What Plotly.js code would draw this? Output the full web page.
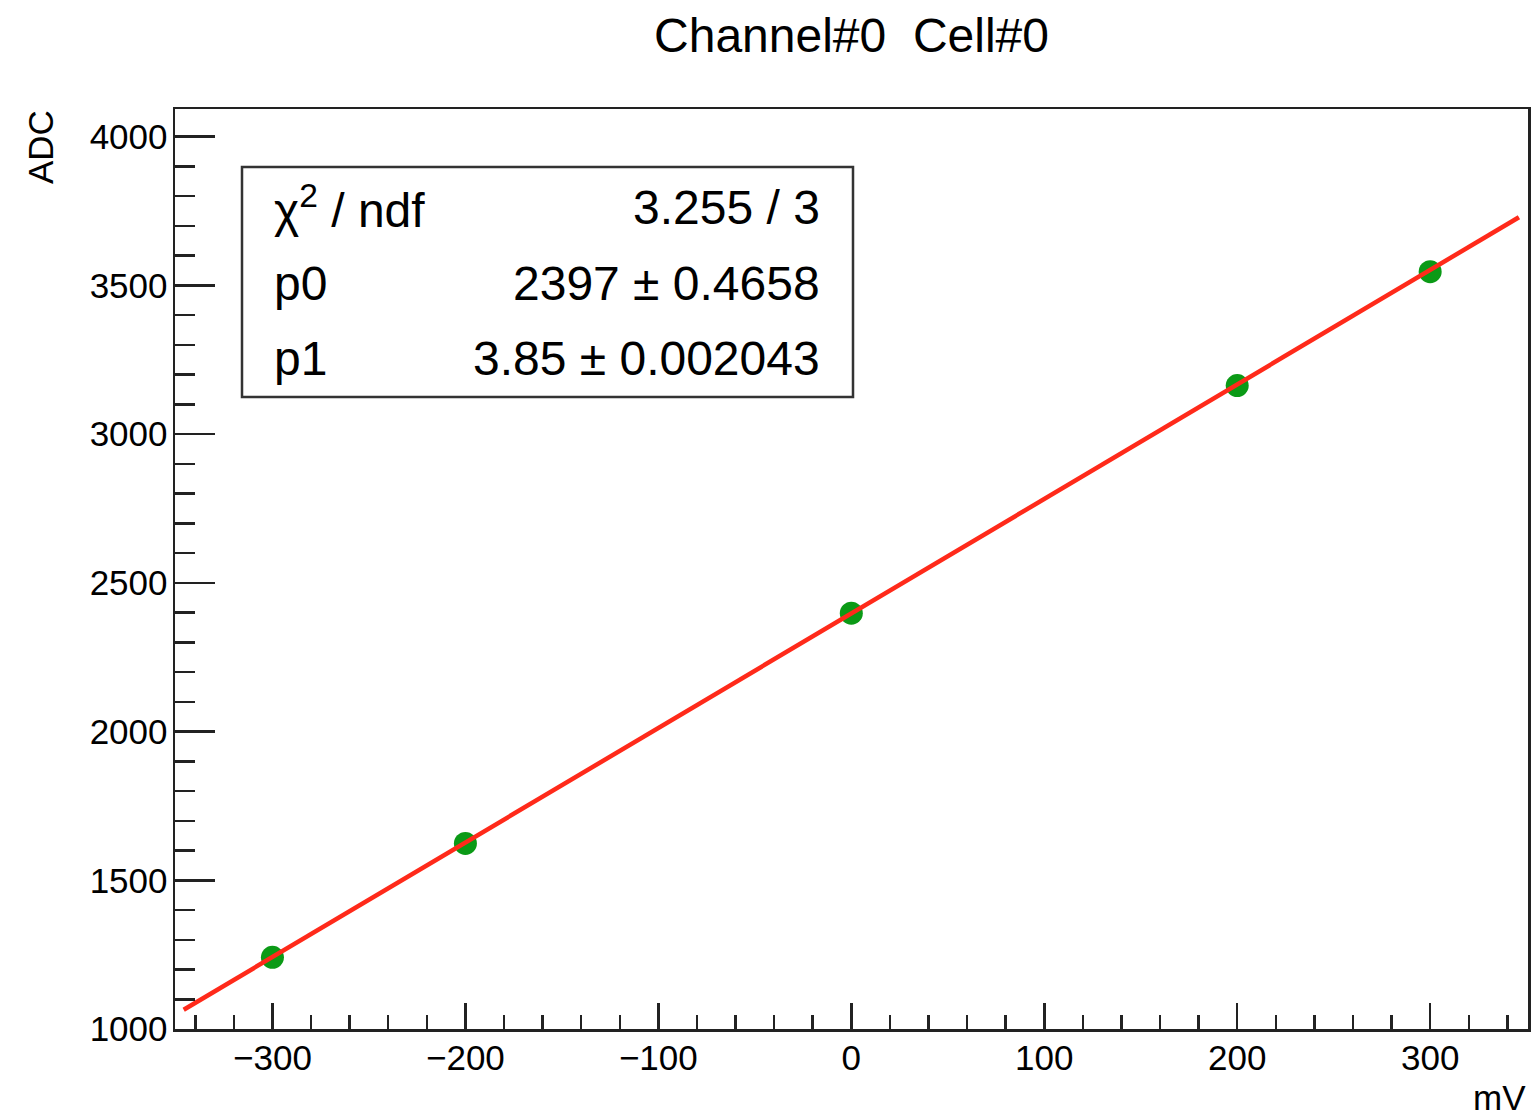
<!DOCTYPE html>
<html>
<head>
<meta charset="utf-8">
<script src="https://cdn.plot.ly/plotly-3.0.1.min.js"></script>
<style>html,body{margin:0;padding:0;background:#fff;}#chart{width:1531px;height:1118px;}</style>
</head>
<body>
<div id="chart"></div>
<script>
// ---- data ----
const voltages_mV = [-300, -200, 0, 200, 300];
const adcValues   = [1241, 1624, 2398, 3163, 3546];

// fit result shown in the stats box
const fitP0 = 2397;
const fitP1 = 3.85;
const fitRange = [-346, 346];
const statLabels = ["χ<sup>2</sup> / ndf", "p0", "p1"];
const statValues = ["3.255 / 3", "2397 ± 0.4658", "3.85 ± 0.002043"];

const chartTitle = "Channel#0  Cell#0";
const xTitle = "mV";
const yTitle = "ADC";

// ---- build ----
const FONT = "'Liberation Sans', Arial, Helvetica, sans-serif";
const fitX = fitRange.slice();
const fitY = fitX.map(x => fitP0 + fitP1 * x);

const traces = [
  {
    x: voltages_mV, y: adcValues, type: 'scatter', mode: 'markers',
    marker: {color: '#0b9a16', size: 23, line: {width: 0}},
    hoverinfo: 'x+y', showlegend: false
  },
  {
    x: fitX, y: fitY, type: 'scatter', mode: 'lines',
    line: {color: '#ff2a1a', width: 4.5},
    hoverinfo: 'skip', showlegend: false
  }
];

// plot area in pixels: x 175..1528, y 109..1029
const L = 175, R = 1528, T = 109, B = 1029;
const px = v => (v - L) / (R - L);
const py = v => (B - v) / (B - T);

const annotations = [];
const rowY = [207, 283, 358];
statLabels.forEach((s, i) => {
  annotations.push({xref:'paper', yref:'paper', x: px(272), y: py(rowY[i]), xanchor:'left', yanchor:'middle',
    text: s, showarrow:false, font:{family:FONT, size:48, color:'#000'}});
});
statValues.forEach((s, i) => {
  annotations.push({xref:'paper', yref:'paper', x: px(822), y: py(rowY[i]), xanchor:'right', yanchor:'middle',
    text: s, showarrow:false, font:{family:FONT, size:48, color:'#000'}});
});
annotations.push({xref:'paper', yref:'paper', x: px(40), y: py(108), xanchor:'center', yanchor:'top',
  textangle:-90, text: yTitle, showarrow:false, font:{family:FONT, size:35, color:'#000'}});
annotations.push({xref:'paper', yref:'paper', x: 1.0, y: py(1097), xanchor:'right', yanchor:'middle',
  text: xTitle, showarrow:false, font:{family:FONT, size:35, color:'#000'}});

const axisCommon = {
  showline: true, mirror: true, linecolor: '#222', linewidth: 2.5,
  showgrid: false, zeroline: false, ticks: 'inside', tickcolor: '#222', tickwidth: 2.5,
  tickfont: {family: FONT, size: 35, color: '#000'}
};

const layout = {
  width: 1531, height: 1118,
  margin: {l: L, r: 1531 - R, t: T, b: 1118 - B, pad: 0},
  paper_bgcolor: '#fff', plot_bgcolor: '#fff',
  title: {text: chartTitle, x: 0.5, xref: 'paper', y: 1 - 35/1118, yref: 'container', yanchor: 'middle', xanchor: 'center',
    font: {family: FONT, size: 48, color: '#000'}},
  xaxis: Object.assign({}, axisCommon, {
    range: [-350.5, 350.7], tick0: 0, dtick: 100, ticklen: 26,
    minor: {dtick: 20, ticklen: 14, ticks: 'inside', tickcolor: '#222', tickwidth: 2.5, showgrid: false},
    ticklabelstandoff: -4
  }),
  yaxis: Object.assign({}, axisCommon, {
    range: [1000, 4093], tick0: 1000, dtick: 500, ticklen: 40,
    minor: {dtick: 100, ticklen: 20, ticks: 'inside', tickcolor: '#222', tickwidth: 2.5, showgrid: false},
    ticklabelstandoff: -2
  }),
  shapes: [
    {type: 'rect', xref: 'paper', yref: 'paper', x0: px(242), x1: px(853), y0: py(397), y1: py(167),
     line: {color: '#333', width: 2.5}, fillcolor: '#fff', layer: 'below'}
  ],
  annotations: annotations,
  showlegend: false
};

Plotly.newPlot('chart', traces, layout, {displayModeBar: false, staticPlot: true});
</script>
</body>
</html>
